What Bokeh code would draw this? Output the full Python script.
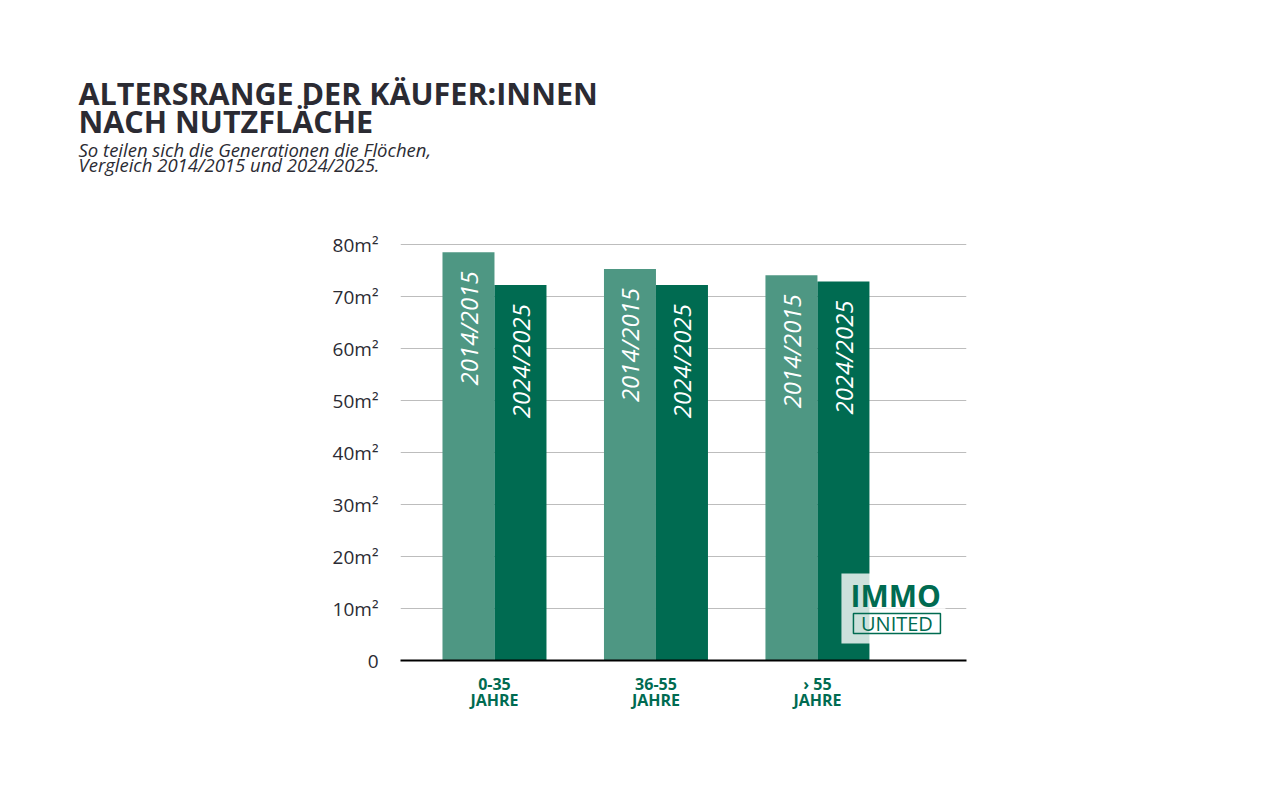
import math
from bokeh.plotting import figure
from bokeh.layouts import column
from bokeh.models import Range1d, FixedTicker, Label, BoxAnnotation, ColumnDataSource
from bokeh.core.properties import value
from bokeh.embed import file_html
from bokeh.resources import INLINE

# ---- data ----
categories = ["0-35\nJAHRE", "36-55\nJAHRE", "› 55\nJAHRE"]
series_names = ["2014/2015", "2024/2025"]
values_2014 = [78.5, 75.3, 74.1]
values_2024 = [72.2, 72.2, 72.9]
y_ticks = [0, 10, 20, 30, 40, 50, 60, 70, 80]
y_tick_labels = ["0", "10m²", "20m²", "30m²", "40m²", "50m²", "60m²", "70m²", "80m²"]
title_lines = ["ALTERSRANGE DER KÄUFER:INNEN", "NACH NUTZFLÄCHE"]
subtitle_lines = ["So teilen sich die Generationen die Flöchen,", "Vergleich 2014/2015 und 2024/2025."]

LIGHT = "#4E9783"
DARK = "#006B51"
TEXT = "#2b2b33"

xpos = [1, 2, 3]
bw = 0.322

W, H = 1264, 777
HT = 200                                   # header height (page px)
FL, FR, FT, FB = 400, 966, 242, 660        # frame edges in page pixels
YMAX = 80 + (244 - FT) / 5.2

# ---- header with title / subtitle (data units == page pixels) ----
hdr = figure(width=W, height=HT, output_backend="svg", toolbar_location=None,
             x_range=Range1d(0, W), y_range=Range1d(HT, 0), x_axis_type=None, y_axis_type=None,
             min_border_left=0, min_border_right=0, min_border_top=0, min_border_bottom=0,
             outline_line_color=None, background_fill_color="white",
             border_fill_color="white")
hdr.title = None
hdr.frame_align = False
hdr.text(x=[78, 78], y=[92, 120], text=title_lines, text_font=value("Open Sans"),
         text_font_style="bold", text_font_size="30.5px", text_color=TEXT,
         text_baseline="alphabetic")
hdr.text(x=[78, 78], y=[149, 164], text=subtitle_lines, text_font=value("Open Sans"),
         text_font_style="italic", text_font_size="18.5px", text_color=TEXT,
         text_baseline="alphabetic")

# ---- main chart ----
p = figure(width=W, height=H - HT, output_backend="svg", toolbar_location=None,
           x_range=Range1d(0.418, 3.923), y_range=Range1d(0, YMAX),
           min_border_left=FL, min_border_right=W - FR, min_border_top=FT - HT,
           min_border_bottom=H - FB,
           outline_line_color=None, background_fill_color="white", border_fill_color="white")
p.frame_align = False

src1 = ColumnDataSource(dict(x=[x - bw / 2 for x in xpos], top=values_2014, lab=[series_names[0]] * 3))
src2 = ColumnDataSource(dict(x=[x + bw / 2 for x in xpos], top=values_2024, lab=[series_names[1]] * 3))
p.vbar(x="x", top="top", width=bw, bottom=0, source=src1, fill_color=LIGHT, line_color=None)
p.vbar(x="x", top="top", width=bw, bottom=0, source=src2, fill_color=DARK, line_color=None)

for s in (src1, src2):
    p.text(x="x", y="top", text="lab", source=s, angle=math.pi / 2, text_align="right",
           text_baseline="middle", y_offset=19, text_color="white",
           text_font=value("Open Sans"), text_font_style="italic", text_font_size="24px")

# axes
p.xaxis.ticker = FixedTicker(ticks=xpos)
p.xaxis.major_label_overrides = {x: c for x, c in zip(xpos, categories)}
p.xaxis.axis_line_color = "black"
p.xaxis.axis_line_width = 2
p.xaxis.major_tick_line_color = None
p.xaxis.minor_tick_line_color = None
p.xaxis.major_label_standoff = 6
p.xaxis.major_label_text_color = DARK
p.xaxis.major_label_text_font = "Open Sans"
p.xaxis.major_label_text_font_style = "bold"
p.xaxis.major_label_text_font_size = "16px"
p.xaxis.major_label_text_line_height = 0.75

p.yaxis.ticker = FixedTicker(ticks=y_ticks)
p.yaxis.major_label_overrides = {t: l for t, l in zip(y_ticks, y_tick_labels)}
p.yaxis.axis_line_color = None
p.yaxis.major_tick_line_color = None
p.yaxis.minor_tick_line_color = None
p.yaxis.major_label_standoff = 16
p.yaxis.major_label_text_color = TEXT
p.yaxis.major_label_text_font = "Open Sans"
p.yaxis.major_label_text_font_size = "19px"

p.xgrid.grid_line_color = None
p.ygrid.grid_line_color = "#bdbdbd"
p.ygrid.grid_line_width = 1

# logo
def px_x(px):
    return 1 + (px - 494) / 161.5

def px_y(py):
    return (660 - py) / 5.2

p.add_layout(BoxAnnotation(left=px_x(841), right=px_x(945), top=px_y(573), bottom=px_y(643),
                           fill_color="white", fill_alpha=0.8, line_color=None))
p.add_layout(Label(x=px_x(850), y=px_y(595), text="IMMO", text_font="Open Sans",
                   text_font_style="bold", text_font_size="30px", text_color=DARK,
                   text_baseline="alphabetic"))
p.add_layout(BoxAnnotation(left=px_x(853), right=px_x(940), top=px_y(613), bottom=px_y(633),
                           fill_color=None, line_color=DARK, line_alpha=1.0, line_width=1.5))
p.add_layout(Label(x=px_x(896.5), y=px_y(623), text="UNITED", text_font="Open Sans",
                   text_font_size="20px", text_color=DARK, text_align="center",
                   text_baseline="middle"))

layout = column(hdr, p, spacing=0)
open("out.html", "w").write(file_html(layout, INLINE))
